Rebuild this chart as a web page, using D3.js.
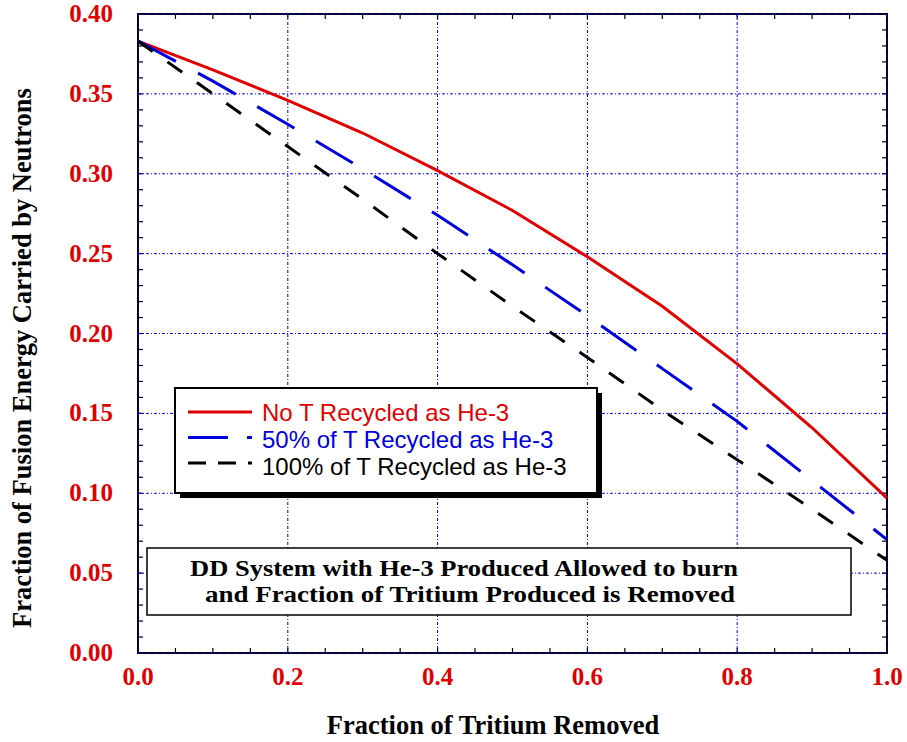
<!DOCTYPE html>
<html>
<head>
<meta charset="utf-8">
<script src="https://cdn.jsdelivr.net/npm/d3@7"></script>
<style>
  body { margin: 0; background: #fff; }
  svg { display: block; }
  .tick-label { font-family: "Liberation Serif", "Times New Roman", serif; font-weight: bold; fill: #e00000; font-size: 25px; }
  .axis-title { font-family: "Liberation Serif", "Times New Roman", serif; font-weight: bold; fill: #000; font-size: 26.5px; }
  .legend-text { font-family: "Liberation Sans", Arial, sans-serif; font-size: 24px; }
  .note-text { font-family: "Liberation Serif", "Times New Roman", serif; font-weight: bold; font-size: 23px; }
</style>
</head>
<body>
<svg id="chart" width="907" height="742"></svg>
<script>
// values
const fracRemoved = [0, 0.1, 0.2, 0.3, 0.4, 0.5, 0.6, 0.7, 0.8, 0.9, 1.0];
const noRecycle   = [0.383, 0.365, 0.346, 0.3255, 0.302, 0.277, 0.248, 0.217, 0.181, 0.141, 0.097];
const recycle50   = [0.383, 0.358, 0.331, 0.303, 0.274, 0.243, 0.211, 0.178, 0.145, 0.108, 0.071];
const recycle100  = [0.383, 0.350, 0.317, 0.284, 0.250, 0.217, 0.185, 0.152, 0.121, 0.090, 0.058];

const seriesNames = ["No T Recycled as He-3", "50% of T Recycled as He-3", "100% of T Recycled as He-3"];
const xTickVals = [0, 0.2, 0.4, 0.6, 0.8, 1.0];
const yTickVals = [0, 0.05, 0.10, 0.15, 0.20, 0.25, 0.30, 0.35, 0.40];
const noteLines = ["DD System with He-3 Produced Allowed to burn", "and Fraction of Tritium Produced is Removed"];

const svg = d3.select('#chart');
const plot = {left: 138, right: 887, top: 14, bottom: 653};

const x = d3.scaleLinear().domain([0, 1]).range([plot.left, plot.right]);
const y = d3.scaleLinear().domain([0, 0.4]).range([plot.bottom, plot.top]);

const styles = [
    {color: '#e00000', dash: null, legendDash: null},
    {color: '#0000dd', dash: '43,25', legendDash: '40,19'},
    {color: '#000000', dash: '18,18', legendDash: '18,12'}
];
const series = [noRecycle, recycle50, recycle100].map((vals, i) => ({
    name: seriesNames[i],
    points: fracRemoved.map((f, j) => [f, vals[j]]),
    ...styles[i]
}));

// frame
svg.append('rect')
    .attr('x', plot.left).attr('y', plot.top)
    .attr('width', plot.right - plot.left).attr('height', plot.bottom - plot.top)
    .attr('fill', 'none').attr('stroke', '#000').attr('stroke-width', 2);

// inside ticks on all four sides
const minorX = d3.range(0, 1.0001, 0.05);
const minorY = d3.range(0, 0.4001, 0.01);
const ticks = svg.append('g').attr('stroke', '#000').attr('stroke-width', 1.2);
minorX.forEach(v => {
    const len = 5;
    ticks.append('line').attr('x1', x(v)).attr('x2', x(v)).attr('y1', plot.bottom).attr('y2', plot.bottom - len);
    ticks.append('line').attr('x1', x(v)).attr('x2', x(v)).attr('y1', plot.top).attr('y2', plot.top + len);
});
minorY.forEach(v => {
    const len = 5;
    ticks.append('line').attr('y1', y(v)).attr('y2', y(v)).attr('x1', plot.left).attr('x2', plot.left + len);
    ticks.append('line').attr('y1', y(v)).attr('y2', y(v)).attr('x1', plot.right).attr('x2', plot.right - len);
});

// grid, dotted blue, also over the frame edges
const grid = svg.append('g')
    .attr('stroke', '#0000ff').attr('stroke-width', 1)
    .attr('stroke-dasharray', '3,2,1,2');
xTickVals.forEach(v => {
    grid.append('line').attr('x1', x(v)).attr('x2', x(v)).attr('y1', plot.top).attr('y2', plot.bottom);
});
yTickVals.forEach(v => {
    grid.append('line').attr('y1', y(v)).attr('y2', y(v)).attr('x1', plot.left).attr('x2', plot.right);
});

// tick labels
svg.append('g').selectAll('text')
    .data(xTickVals).join('text')
    .attr('class', 'tick-label')
    .attr('x', d => x(d)).attr('y', 685)
    .attr('text-anchor', 'middle')
    .text(d3.format('.1f'));
svg.append('g').selectAll('text')
    .data(yTickVals).join('text')
    .attr('class', 'tick-label')
    .attr('x', 113).attr('y', d => y(d) + 8)
    .attr('text-anchor', 'end')
    .text(d3.format('.2f'));

// axis titles
svg.append('text').attr('class', 'axis-title')
    .attr('x', 493).attr('y', 734).attr('text-anchor', 'middle')
    .text('Fraction of Tritium Removed');
svg.append('text').attr('class', 'axis-title')
    .attr('transform', 'translate(31,358) rotate(-90)').attr('text-anchor', 'middle')
    .text('Fraction of Fusion Energy Carried by Neutrons');

// curves
const line = d3.line().x(d => x(d[0])).y(d => y(d[1]));
svg.append('g').selectAll('path')
    .data(series).join('path')
    .attr('d', d => line(d.points))
    .attr('fill', 'none')
    .attr('stroke', d => d.color)
    .attr('stroke-width', 3)
    .attr('stroke-dasharray', d => d.dash);

// legend with drop shadow
const lg = svg.append('g').attr('transform', 'translate(175,388)');
lg.append('rect').attr('x', 5).attr('y', 5).attr('width', 422).attr('height', 105).attr('fill', '#000');
lg.append('rect').attr('width', 422).attr('height', 105).attr('fill', '#fff').attr('stroke', '#000').attr('stroke-width', 2);
series.forEach((s, i) => {
    const ly = 24 + i * 25.5;
    lg.append('line')
        .attr('x1', 13).attr('x2', 77).attr('y1', ly).attr('y2', ly)
        .attr('stroke', s.color).attr('stroke-width', 3)
        .attr('stroke-dasharray', s.legendDash);
    lg.append('text').attr('class', 'legend-text')
        .attr('x', 87).attr('y', ly + 9 + i * 1.5)
        .attr('fill', s.color)
        .text(s.name);
});

// note box
const nb = svg.append('g').attr('transform', 'translate(147,548)');
nb.append('rect').attr('width', 704).attr('height', 67).attr('fill', '#fff').attr('stroke', '#000').attr('stroke-width', 1.5);
const noteSpan = [[43, 591], [58, 588]]; // left/right of each line inside the box
noteLines.forEach((t, i) => {
    nb.append('text').attr('class', 'note-text')
        .attr('x', noteSpan[i][0]).attr('y', 28 + i * 26)
        .attr('textLength', noteSpan[i][1] - noteSpan[i][0])
        .attr('lengthAdjust', 'spacingAndGlyphs')
        .text(t);
});
</script>
</body>
</html>
